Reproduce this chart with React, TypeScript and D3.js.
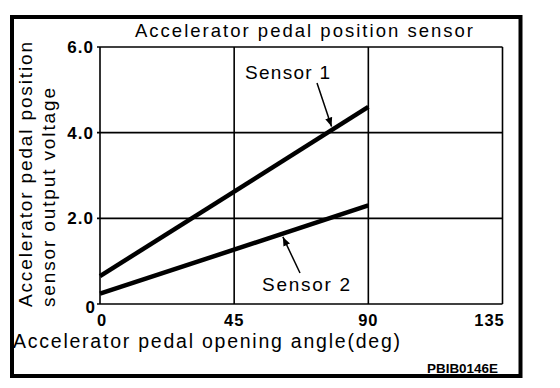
import React from "react";
import * as d3 from "d3";

const angles = [0, 90];
const sensor1 = [0.65, 4.6];
const sensor2 = [0.24, 2.3];
const xTicks = [0, 45, 90, 135];
const xTickLabels = ["0", "45", "90", "135"];
const yTicks = [0, 2, 4, 6];
const yTickLabels = ["0", "2.0", "4.0", "6.0"];

const W = 560;
const H = 388;
const FONT = "'Liberation Sans', Arial, Helvetica, sans-serif";

export default function App() {
  const x = d3.scaleLinear().domain([0, 135]).range([100, 502.5]);
  const y = d3.scaleLinear().domain([0, 6]).range([304, 47]);
  const line = d3
    .line<number>()
    .x((_, i) => x(angles[i]))
    .y((d) => y(d));

  const s1At = (a: number) => y(sensor1[0] + ((sensor1[1] - sensor1[0]) * a) / 90);
  const s2At = (a: number) => y(sensor2[0] + ((sensor2[1] - sensor2[0]) * a) / 90);
  const a1 = 78;
  const a2 = 61;

  return (
    <svg
      width={W}
      height={H}
      style={{ position: "absolute", left: 0, top: 0, background: "#fff" }}
      fontFamily={FONT}
    >
      <defs>
        <marker id="arr" viewBox="0 0 10 10" refX="10" refY="5" markerWidth="9" markerHeight="9" orient="auto" markerUnits="userSpaceOnUse">
          <path d="M0,1 L10,5 L0,9 Z" fill="#000" />
        </marker>
      </defs>
      <rect x={12} y={17} width={508.5} height={359} fill="none" stroke="#000" strokeWidth={4} />

      {yTicks.map((t) => (
        <line key={"gy" + t} x1={x(0) - 3} x2={x(135)} y1={y(t)} y2={y(t)} stroke="#000" strokeWidth={1.6} />
      ))}
      {xTicks.map((t) => (
        <line key={"gx" + t} x1={x(t)} x2={x(t)} y1={y(6)} y2={y(0)} stroke="#000" strokeWidth={1.6} />
      ))}

      <path d={line(sensor1) || ""} fill="none" stroke="#000" strokeWidth={4.5} />
      <path d={line(sensor2) || ""} fill="none" stroke="#000" strokeWidth={4.5} />

      <text x={245} y={79} fontSize={19} textLength={85} lengthAdjust="spacing">Sensor 1</text>
      <line x1={317} y1={83} x2={x(a1) - 1} y2={s1At(a1) - 3} stroke="#000" strokeWidth={1.5} markerEnd="url(#arr)" />
      <text x={262} y={291} fontSize={19} textLength={88} lengthAdjust="spacing">Sensor 2</text>
      <line x1={300} y1={273} x2={x(a2) + 1} y2={s2At(a2) + 3} stroke="#000" strokeWidth={1.5} markerEnd="url(#arr)" />

      {yTicks.map((t, i) =>
        t === 0 ? (
          <text key={"yl" + t} x={95} y={313} fontSize={17} fontWeight="bold" textAnchor="end">{yTickLabels[i]}</text>
        ) : (
          <text key={"yl" + t} x={94} y={y(t) + 6} fontSize={17} fontWeight="bold" textAnchor="end" letterSpacing={1}>{yTickLabels[i]}</text>
        )
      )}
      {xTicks.map((t, i) => (
        <text
          key={"xl" + t}
          x={i === 0 ? x(t) + 2 : i === xTicks.length - 1 ? x(t) - 13 : x(t)}
          y={326}
          fontSize={16.5}
          fontWeight="bold"
          textAnchor="middle"
          letterSpacing={1}
        >
          {xTickLabels[i]}
        </text>
      ))}

      <text x={135} y={37} fontSize={18.5} textLength={338} lengthAdjust="spacing">Accelerator pedal position sensor</text>
      <text transform="translate(32,307) rotate(-90)" fontSize={19} textLength={265} lengthAdjust="spacing">Accelerator pedal position</text>
      <text transform="translate(55,307) rotate(-90)" fontSize={19} textLength={219} lengthAdjust="spacing">sensor output voltage</text>
      <text x={13} y={348} fontSize={19.5} textLength={387} lengthAdjust="spacing">Accelerator pedal opening angle(deg)</text>
      <text x={427} y={373} fontSize={13} fontWeight="bold" textLength={71} lengthAdjust="spacingAndGlyphs">PBIB0146E</text>
    </svg>
  );
}
